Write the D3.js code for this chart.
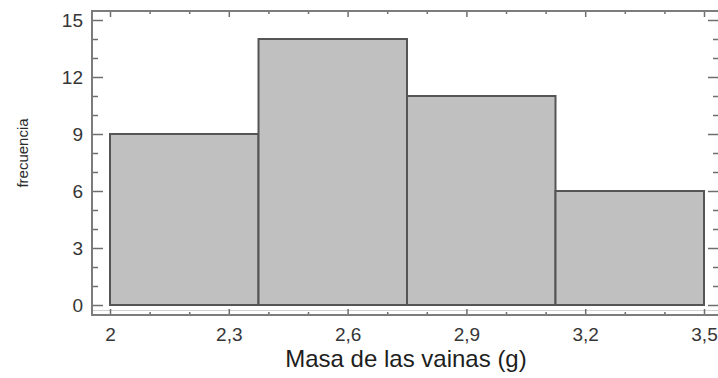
<!DOCTYPE html>
<html>
<head>
<meta charset="utf-8">
<script src="https://cdn.jsdelivr.net/npm/d3@7"></script>
<style>
  html, body { margin: 0; padding: 0; background: #ffffff; }
  svg { display: block; }
  text { font-family: "Liberation Sans", Arial, sans-serif; }
</style>
</head>
<body>
<svg id="chart" width="718" height="378"></svg>
<script>
// ---- data ----
const binStarts = [2.0, 2.375, 2.75, 3.125];
const binEnds   = [2.375, 2.75, 3.125, 3.5];
const frequencies = [9, 14, 11, 6];
const xTicks = [2.0, 2.3, 2.6, 2.9, 3.2, 3.5];
const xTickLabels = ["2", "2,3", "2,6", "2,9", "3,2", "3,5"];
const xMinorTicks = [2.1, 2.2, 2.4, 2.5, 2.7, 2.8, 3.0, 3.1, 3.3, 3.4];
const yTicks = [0, 3, 6, 9, 12, 15];
const yTickLabels = ["0", "3", "6", "9", "12", "15"];
const yMinorTicks = [1, 2, 4, 5, 7, 8, 10, 11, 13, 14];
const xTitle = "Masa de las vainas (g)";
const yTitle = "frecuencia";

// ---- layout ----
const svg = d3.select("#chart");
const frameL = 92, frameT = 11, frameB = 315, frameR = 718;
const x = d3.scaleLinear().domain([2.0, 3.5]).range([110, 704]);
const y = d3.scaleLinear().domain([0, 15]).range([305, 20]);

const frameColor = "#7c7c7c";
const tickColor = "#6e6e6e";
const labelColor = "#363636";

svg.append("rect").attr("x", 0).attr("y", 0).attr("width", 718).attr("height", 378).attr("fill", "#fff");

// light inner line near the bottom
svg.append("line").attr("x1", frameL).attr("x2", frameR).attr("y1", 310.5).attr("y2", 310.5)
  .attr("stroke", "#d2d2d2").attr("stroke-width", 1);

// bars
const bins = binStarts.map((s, i) => ({ x0: s, x1: binEnds[i], v: frequencies[i] }));
svg.append("g").selectAll("rect").data(bins).join("rect")
  .attr("x", d => x(d.x0))
  .attr("y", d => y(d.v))
  .attr("width", d => x(d.x1) - x(d.x0))
  .attr("height", d => y(0) - y(d.v))
  .attr("fill", "#c0c0c0")
  .attr("stroke", "#555555")
  .attr("stroke-width", 2);

function styleAxis(g) {
  g.select(".domain").remove();
  g.selectAll(".tick line").attr("stroke", tickColor).attr("stroke-width", 1.5);
  g.selectAll(".tick text").attr("fill", labelColor).attr("font-size", 19)
    .attr("font-family", '"Liberation Sans", Arial, sans-serif');
}

// left axis (major with labels)
svg.append("g").attr("transform", `translate(${frameL},0)`)
  .call(d3.axisLeft(y).tickValues(yTicks).tickSizeInner(-11).tickSizeOuter(0).tickPadding(9)
    .tickFormat((d, i) => yTickLabels[i]))
  .call(styleAxis);
// left minor
svg.append("g").attr("transform", `translate(${frameL},0)`)
  .call(d3.axisLeft(y).tickValues(yMinorTicks).tickSizeInner(-6).tickSizeOuter(0).tickFormat(""))
  .call(styleAxis);
// right axis
svg.append("g").attr("transform", `translate(${frameR},0)`)
  .call(d3.axisRight(y).tickValues(yTicks).tickSizeInner(-10).tickSizeOuter(0).tickFormat(""))
  .call(styleAxis);
svg.append("g").attr("transform", `translate(${frameR},0)`)
  .call(d3.axisRight(y).tickValues(yMinorTicks).tickSizeInner(-5).tickSizeOuter(0).tickFormat(""))
  .call(styleAxis);

// bottom axis
svg.append("g").attr("transform", `translate(0,${frameB})`)
  .call(d3.axisBottom(x).tickValues(xTicks).tickSizeInner(-6).tickSizeOuter(0).tickPadding(13)
    .tickFormat((d, i) => xTickLabels[i]))
  .call(styleAxis);
svg.append("g").attr("transform", `translate(0,${frameB})`)
  .call(d3.axisBottom(x).tickValues(xMinorTicks).tickSizeInner(-3).tickSizeOuter(0).tickFormat(""))
  .call(styleAxis);
// top axis
svg.append("g").attr("transform", `translate(0,${frameT})`)
  .call(d3.axisTop(x).tickValues(xTicks).tickSizeInner(-6).tickSizeOuter(0).tickFormat(""))
  .call(styleAxis);
svg.append("g").attr("transform", `translate(0,${frameT})`)
  .call(d3.axisTop(x).tickValues(xMinorTicks).tickSizeInner(-3).tickSizeOuter(0).tickFormat(""))
  .call(styleAxis);

// frame (top, left, bottom)
svg.append("path")
  .attr("d", `M${frameR},${frameT} H${frameL} V${frameB} H${frameR}`)
  .attr("fill", "none").attr("stroke", frameColor).attr("stroke-width", 2);

// titles
svg.append("text").attr("x", 406).attr("y", 367).attr("text-anchor", "middle")
  .attr("font-size", 24).attr("fill", "#1e1e1e").text(xTitle);
svg.append("text").attr("transform", "translate(28,153) rotate(-90)").attr("text-anchor", "middle")
  .attr("font-size", 15).attr("fill", "#2a2a2a").text(yTitle);
</script>
</body>
</html>
